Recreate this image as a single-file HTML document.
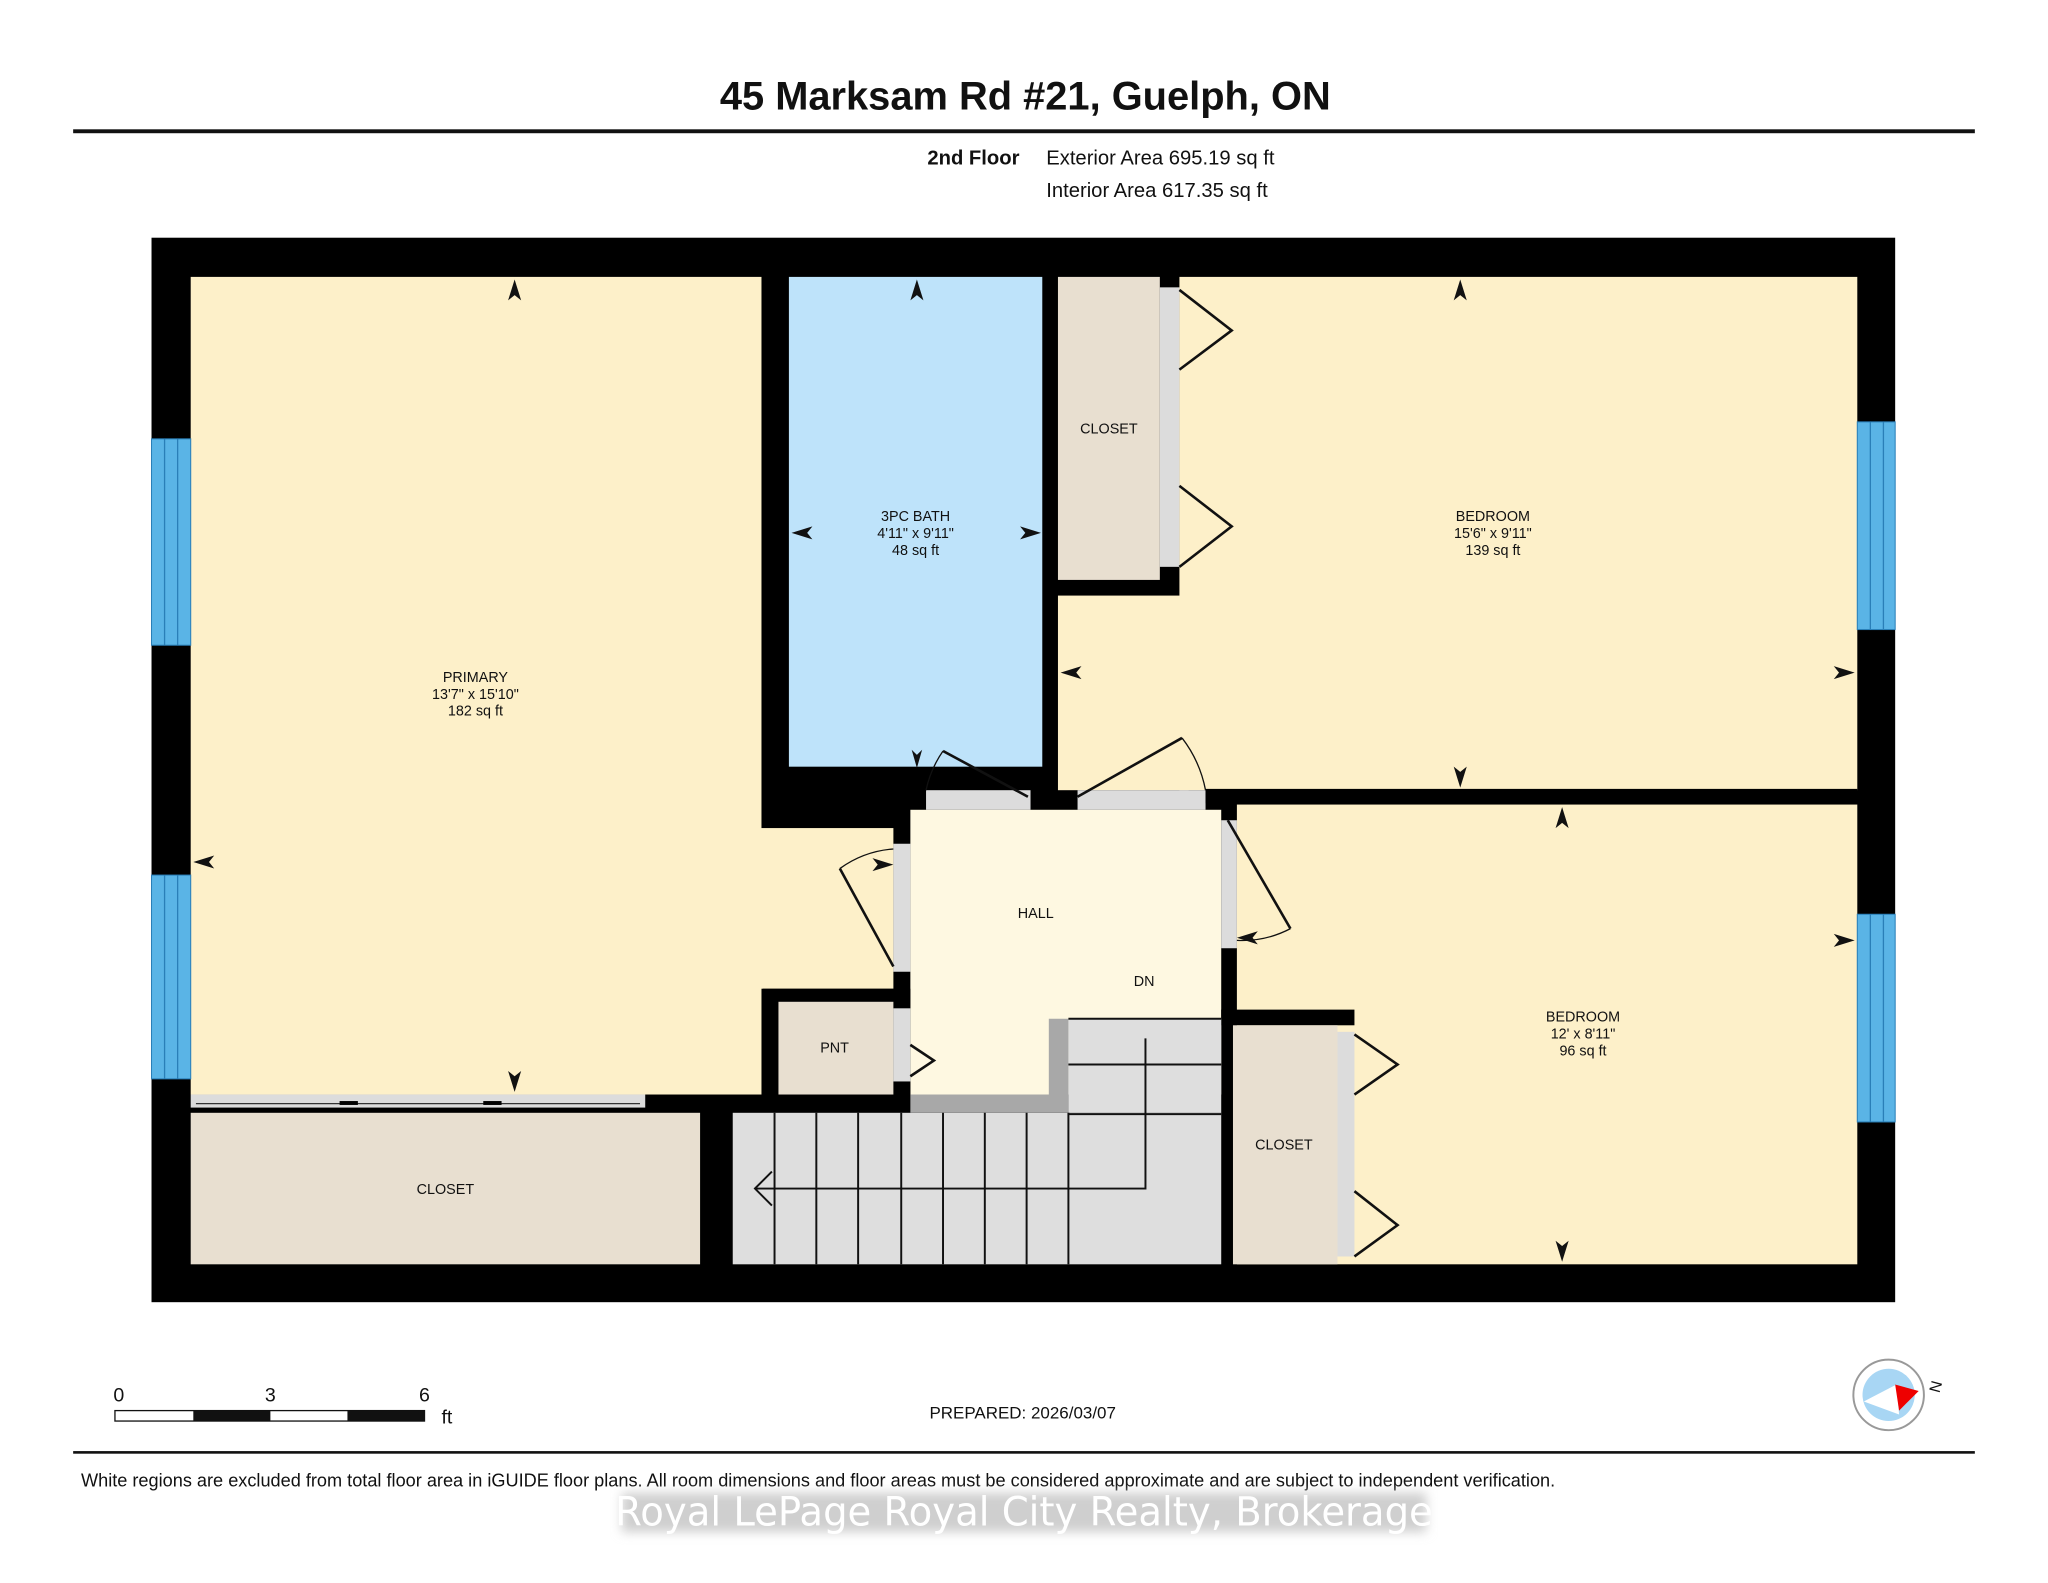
<!DOCTYPE html>
<html><head><meta charset="utf-8"><style>
html,body{margin:0;padding:0;background:#fff;}
svg{display:block;}
text{font-family:"Liberation Sans",Arial,sans-serif;fill:#111;}
</style></head><body>
<svg width="2048" height="1583" viewBox="0 0 1568 1212" xmlns="http://www.w3.org/2000/svg">
<defs>
<filter id="bl" x="-10%" y="-50%" width="120%" height="200%"><feGaussianBlur stdDeviation="4"/></filter>
</defs>
<rect width="1568" height="1212" fill="#fff"/>
<text x="785" y="84" font-size="30.5" font-weight="bold" text-anchor="middle">45 Marksam Rd #21, Guelph, ON</text>
<rect x="56" y="99" width="1456" height="3" fill="#111"/>
<text x="710" y="126" font-size="15.5" font-weight="bold">2nd Floor</text>
<text x="801" y="126" font-size="15.5">Exterior Area 695.19 sq ft</text>
<text x="801" y="151" font-size="15.5">Interior Area 617.35 sq ft</text>

<!-- outer wall -->
<rect x="116" y="182" width="1335" height="815" fill="#000"/>
<!-- primary -->
<rect x="146" y="212" width="437" height="626" fill="#fdf0c9"/>
<rect x="582" y="634" width="102" height="123" fill="#fdf0c9"/>
<!-- bath -->
<rect x="604" y="212" width="194" height="375" fill="#bee3fa"/>
<!-- closet top -->
<rect x="810" y="212" width="78" height="232" fill="#e8dfd0"/>
<rect x="888" y="220" width="15" height="214" fill="#dcdcdc"/>
<!-- bedroom1 -->
<rect x="903" y="212" width="519" height="393" fill="#fdf0c9"/>
<rect x="810" y="456" width="100" height="149" fill="#fdf0c9"/>
<!-- hall door strips -->
<rect x="709" y="605" width="80" height="15" fill="#dcdcdc"/>
<rect x="825" y="605" width="98" height="15" fill="#dcdcdc"/>
<!-- hall -->
<rect x="697" y="620" width="238" height="218" fill="#fef8e1"/>
<rect x="684" y="646" width="13" height="98" fill="#dcdcdc"/>
<rect x="935" y="628" width="12" height="98" fill="#dcdcdc"/>
<!-- bedroom2 -->
<rect x="947" y="616" width="475" height="352" fill="#fdf0c9"/>
<rect x="935" y="773" width="102" height="12" fill="#000"/>
<rect x="944" y="785" width="80" height="183" fill="#e8dfd0"/>
<rect x="1024" y="790" width="13" height="172" fill="#dcdcdc"/>
<!-- wall between bedrooms -->
<rect x="923" y="604" width="499" height="11" fill="#000"/>
<!-- PNT -->
<rect x="584" y="757" width="113" height="81" fill="#000"/>
<rect x="596" y="767" width="88" height="71" fill="#e8dfd0"/>
<rect x="684" y="772" width="13" height="56" fill="#dcdcdc"/>
<!-- bottom closet -->
<rect x="146" y="852" width="390" height="116" fill="#e8dfd0"/>
<rect x="146" y="838" width="348" height="10" fill="#dcdcdc"/>
<line x1="150" y1="845" x2="490" y2="845" stroke="#333" stroke-width="1"/>
<rect x="260" y="843" width="14" height="3" fill="#000"/>
<rect x="370" y="843" width="14" height="3" fill="#000"/>
<!-- stairs -->
<rect x="561" y="852" width="374" height="116" fill="#dedede"/>
<rect x="818" y="780" width="117" height="72" fill="#dedede"/>
<path d="M697 838 H803 V780 H818 V852 H697 Z" fill="#a8a8a8"/>
<g stroke="#111" stroke-width="1.5" fill="none">
<line x1="593" y1="852" x2="593" y2="968"/><line x1="625" y1="852" x2="625" y2="968"/>
<line x1="657" y1="852" x2="657" y2="968"/><line x1="690" y1="852" x2="690" y2="968"/>
<line x1="722" y1="852" x2="722" y2="968"/><line x1="754" y1="852" x2="754" y2="968"/>
<line x1="786" y1="852" x2="786" y2="968"/><line x1="818" y1="852" x2="818" y2="968"/>
<line x1="818" y1="780" x2="935" y2="780"/>
<line x1="818" y1="815" x2="935" y2="815"/><line x1="818" y1="853" x2="935" y2="853"/>
<polyline points="877,795 877,910 578,910"/>
<polyline points="591,897 578,910 591,923"/>
</g>
<!-- windows -->
<g fill="#5ab4e6" stroke="#2a7fb8" stroke-width="0.8">
<rect x="116" y="336" width="30" height="158"/><rect x="116" y="670" width="30" height="156"/>
<rect x="1422" y="323" width="29" height="159"/><rect x="1422" y="700" width="29" height="159"/>
</g>
<g stroke="#2a7fb8" stroke-width="1">
<line x1="126" y1="336" x2="126" y2="494"/><line x1="136" y1="336" x2="136" y2="494"/>
<line x1="126" y1="670" x2="126" y2="826"/><line x1="136" y1="670" x2="136" y2="826"/>
<line x1="1432" y1="323" x2="1432" y2="482"/><line x1="1442" y1="323" x2="1442" y2="482"/>
<line x1="1432" y1="700" x2="1432" y2="859"/><line x1="1442" y1="700" x2="1442" y2="859"/>
</g>
<!-- doors -->
<g stroke="#111" stroke-width="2" fill="none">
<polyline points="903,222 943,253 903,283"/>
<polyline points="903,372 943,403 903,434"/>
<polyline points="1037,792 1070,815 1037,838"/>
<polyline points="1037,912 1070,938 1037,962"/>
<polyline points="697,800 715,812 697,824"/>
<polyline points="787,610 722,575"/>
<path d="M722 575 A82 82 0 0 0 709 605" stroke-width="1"/>
<polyline points="825,610 905,565"/>
<path d="M905 565 A95 95 0 0 1 923 605" stroke-width="1"/>
<polyline points="684,740 643,665"/>
<path d="M643 665 A80 80 0 0 1 684 650" stroke-width="1"/>
<polyline points="940,628 988,711"/>
<path d="M988 711 A80 80 0 0 1 947 720" stroke-width="1"/>
</g>
<!-- dimension arrows -->
<g fill="#111">
<path d="M394 214 l-5 16 l5 -4 l5 4 z"/>
<path d="M394 836 l-5 -16 l5 4 l5 -4 z"/>
<path d="M148 660 l16 -5 l-4 5 l4 5 z"/>
<path d="M702 214 l-5 16 l5 -4 l5 4 z"/>
<path d="M606 408 l16 -5 l-4 5 l4 5 z"/>
<path d="M797 408 l-16 -5 l4 5 l-4 5 z"/>
<path d="M1118 214 l-5 16 l5 -4 l5 4 z"/>
<path d="M1118 603 l-5 -16 l5 4 l5 -4 z"/>
<path d="M812 515 l16 -5 l-4 5 l4 5 z"/>
<path d="M1420 515 l-16 -5 l4 5 l-4 5 z"/>
<path d="M1196 618 l-5 16 l5 -4 l5 4 z"/>
<path d="M1196 966 l-5 -16 l5 4 l5 -4 z"/>
<path d="M1420 720 l-16 -5 l4 5 l-4 5 z"/>
<path d="M684 662 l-16 -5 l4 5 l-4 5 z"/>
<path d="M947 718 l16 -5 l-4 5 l4 5 z"/>
<path d="M702 588 l-4 -14 l4 4 l4 -4 z"/>
</g>
<!-- labels -->
<g font-size="11" text-anchor="middle">
<text x="364" y="522">PRIMARY</text><text x="364" y="535">13'7" x 15'10"</text><text x="364" y="548">182 sq ft</text>
<text x="701" y="399">3PC BATH</text><text x="701" y="412">4'11" x 9'11"</text><text x="701" y="425">48 sq ft</text>
<text x="1143" y="399">BEDROOM</text><text x="1143" y="412">15'6" x 9'11"</text><text x="1143" y="425">139 sq ft</text>
<text x="1212" y="782">BEDROOM</text><text x="1212" y="795">12' x 8'11"</text><text x="1212" y="808">96 sq ft</text>
<text x="793" y="703">HALL</text><text x="876" y="755">DN</text><text x="639" y="806">PNT</text>
<text x="849" y="332">CLOSET</text><text x="983" y="880">CLOSET</text><text x="341" y="914">CLOSET</text>
</g>
<!-- scale -->
<rect x="88" y="1080" width="237" height="8" fill="#fff" stroke="#111" stroke-width="1"/>
<rect x="148" y="1080" width="59" height="8" fill="#111"/>
<rect x="266" y="1080" width="59" height="8" fill="#111"/>
<text x="91" y="1073" font-size="15" text-anchor="middle">0</text>
<text x="207" y="1073" font-size="15" text-anchor="middle">3</text>
<text x="325" y="1073" font-size="15" text-anchor="middle">6</text>
<text x="338" y="1090" font-size="15">ft</text>
<text x="783" y="1086" font-size="13" text-anchor="middle">PREPARED: 2026/03/07</text>
<!-- compass -->
<circle cx="1446" cy="1068" r="27" fill="#fff" stroke="#999" stroke-width="1.5"/>
<circle cx="1446" cy="1068" r="20" fill="#a8d6f4"/>
<path d="M1427 1073 L1452 1060 L1454 1083 Z" fill="#fff"/>
<path d="M1451 1060 L1469 1065 L1454 1080 Z" fill="#e00"/>
<text x="1478" y="1066" font-size="12" transform="rotate(-75 1482 1062)">N</text>
<rect x="56" y="1111" width="1456" height="2" fill="#111"/>
<text x="62" y="1138" font-size="13.9">White regions are excluded from total floor area in iGUIDE floor plans. All room dimensions and floor areas must be considered approximate and are subject to independent verification.</text>
<rect x="476" y="1143" width="616" height="30" fill="#cfcfcf" filter="url(#bl)"/>
<text x="784" y="1168" font-size="31" text-anchor="middle" style="font-family:'DejaVu Sans',sans-serif;fill:#fff" textLength="626" lengthAdjust="spacingAndGlyphs">Royal LePage Royal City Realty, Brokerage</text>
</svg>
</body></html>
